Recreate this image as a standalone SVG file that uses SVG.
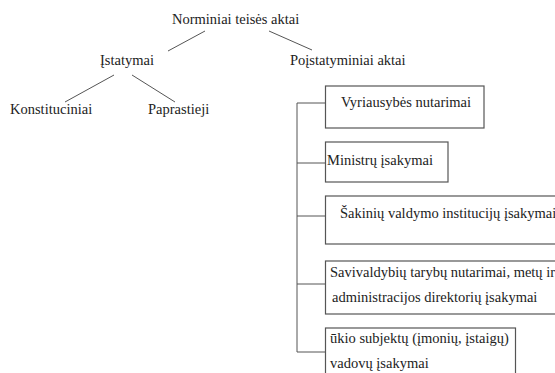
<svg xmlns="http://www.w3.org/2000/svg" width="555" height="373" viewBox="0 0 555 373">
<style>
text{font-family:"Liberation Serif","Times New Roman",serif;font-size:14.5px;fill:#222}
.box{fill:#fff;stroke:#555;stroke-width:1.2}
.ln{stroke:#555;stroke-width:1;fill:none}
</style>
<rect width="555" height="373" fill="#fff"/>
<g id="connectors">
<line class="ln" x1="205" y1="31" x2="168" y2="51"/>
<line class="ln" x1="269" y1="31" x2="312" y2="50"/>
<line class="ln" x1="114" y1="75" x2="65" y2="102"/>
<line class="ln" x1="132" y1="75" x2="175" y2="102"/>
<polyline class="ln" points="325,103 297,103 297,352 325,352"/>
<line class="ln" x1="297" y1="163" x2="325" y2="163"/>
<line class="ln" x1="297" y1="216" x2="325" y2="216"/>
<line class="ln" x1="297" y1="284" x2="325" y2="284"/>
</g>
<g id="n-root"><text x="172" y="24">Norminiai teisės aktai</text></g>
<g id="n-istatymai"><text x="100" y="65">Įstatymai</text></g>
<g id="n-poistatyminiai"><text x="290" y="65">Poįstatyminiai aktai</text></g>
<g id="n-konstituciniai"><text x="10" y="114">Konstituciniai</text></g>
<g id="n-paprastieji"><text x="148" y="114">Paprastieji</text></g>
<g id="n-vyriausybes"><rect class="box" x="325.5" y="86" width="158.5" height="42"/><text x="341" y="107">Vyriausybės nutarimai</text></g>
<g id="n-ministru"><rect class="box" x="325.5" y="142" width="122.5" height="40"/><text x="327" y="165">Ministrų įsakymai</text></g>
<g id="n-sakiniu"><rect class="box" x="325.5" y="196" width="240" height="48"/><text x="340" y="218">Šakinių valdymo institucijų įsakymai</text></g>
<g id="n-savivaldybiu"><rect class="box" x="325.5" y="261" width="240" height="53"/><text x="330" y="277">Savivaldybių tarybų nutarimai, metų ir</text><text x="332" y="302">administracijos direktorių įsakymai</text></g>
<g id="n-ukio"><rect class="box" x="325.5" y="328" width="190" height="60"/><text x="330" y="343">ūkio subjektų (įmonių, įstaigų)</text><text x="330" y="368">vadovų įsakymai</text></g>
</svg>
